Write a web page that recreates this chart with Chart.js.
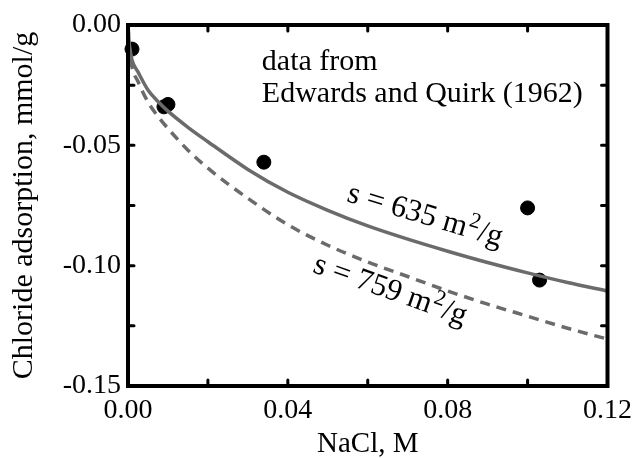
<!DOCTYPE html>
<html>
<head>
<meta charset="utf-8">
<script src="https://cdn.jsdelivr.net/npm/chart.js@4.4.0/dist/chart.umd.min.js"></script>
<style>
  html, body { margin: 0; padding: 0; background: #fff; }
  #wrap { width: 640px; height: 458px; }
</style>
</head>
<body>
<div id="wrap"><canvas id="chart" width="640" height="458"></canvas></div>
<script>
// measured points (Edwards and Quirk, 1962)
const measuredNaCl = [0.001, 0.009, 0.010, 0.034, 0.100, 0.103];
const measuredCl = [-0.010, -0.034, -0.033, -0.057, -0.076, -0.106];

// model curves
const curveNaCl = [0, 0.0003, 0.0006, 0.001, 0.0025, 0.005, 0.0075, 0.01, 0.015, 0.02, 0.03, 0.04, 0.05, 0.06, 0.07, 0.08, 0.09, 0.10, 0.11, 0.12];
const curve635 = [0, -0.0075, -0.011, -0.0145, -0.0195, -0.027, -0.0318, -0.0358, -0.0425, -0.0485, -0.060, -0.0695, -0.077, -0.0835, -0.089, -0.094, -0.0987, -0.103, -0.107, -0.1105];
const curve759 = [0, -0.009, -0.0132, -0.0175, -0.0235, -0.032, -0.038, -0.043, -0.052, -0.0595, -0.072, -0.083, -0.0915, -0.0985, -0.1045, -0.1105, -0.116, -0.121, -0.126, -0.1305];

const xLabelTicks = [0, 0.04, 0.08, 0.12];
const yLabelTicks = [0, -0.05, -0.10, -0.15];

const FONT = "'Liberation Serif', 'Times New Roman', serif";
const GREY = '#6b6b6b';

function toPoints(xs, ys) {
  return xs.map((x, i) => ({ x: x, y: ys[i] }));
}

function hasLabel(v, list) {
  return list.some(t => Math.abs(t - v) < 1e-9);
}

// frame, inward ticks and text labels
const decorPlugin = {
  id: 'decor',
  afterDatasetsDraw(chart) {
    const ctx = chart.ctx;
    const a = chart.chartArea;
    const xs = chart.scales.x, ys = chart.scales.y;
    ctx.save();
    ctx.strokeStyle = '#000';
    ctx.lineCap = 'round';
    ctx.lineWidth = 3;
    const tl = 6;
    xs.ticks.forEach(t => {
      if (t.value <= xs.min + 1e-9 || t.value >= xs.max - 1e-9) return;
      const px = xs.getPixelForValue(t.value);
      ctx.beginPath();
      ctx.moveTo(px, a.bottom); ctx.lineTo(px, a.bottom - tl);
      ctx.moveTo(px, a.top); ctx.lineTo(px, a.top + tl);
      ctx.stroke();
    });
    ys.ticks.forEach(t => {
      if (t.value <= ys.min + 1e-9 || t.value >= ys.max - 1e-9) return;
      const py = ys.getPixelForValue(t.value);
      ctx.beginPath();
      ctx.moveTo(a.left, py); ctx.lineTo(a.left + tl, py);
      ctx.moveTo(a.right, py); ctx.lineTo(a.right - tl, py);
      ctx.stroke();
    });
    ctx.lineCap = 'butt';
    ctx.lineJoin = 'miter';
    ctx.lineWidth = 4;
    ctx.strokeRect(a.left, a.top, a.right - a.left, a.bottom - a.top);

    // annotation
    ctx.fillStyle = '#000';
    ctx.font = '30px ' + FONT;
    ctx.textBaseline = 'alphabetic';
    ctx.textAlign = 'left';
    const ax = xs.getPixelForValue(0.0335);
    ctx.fillText('data from', ax, ys.getPixelForValue(-0.0185));
    ctx.fillText('Edwards and Quirk (1962)', ax, ys.getPixelForValue(-0.0322));

    // curve labels
    drawAreaLabel(ctx, '635', xs.getPixelForValue(0.0545), ys.getPixelForValue(-0.0731), 16.5);
    drawAreaLabel(ctx, '759', xs.getPixelForValue(0.0460), ys.getPixelForValue(-0.1025), 19.5);
    ctx.restore();
  }
};

function drawAreaLabel(ctx, value, x, y, deg) {
  ctx.save();
  ctx.translate(x, y);
  ctx.rotate(deg * Math.PI / 180);
  ctx.font = '31px ' + FONT;
  let s = 's = ' + value + ' m';
  ctx.fillText(s, 0, 0);
  let w = ctx.measureText(s).width;
  ctx.font = '22px ' + FONT;
  ctx.fillText('2', w + 1, -11);
  w += ctx.measureText('2').width + 2;
  ctx.font = '31px ' + FONT;
  ctx.fillText('/g', w, 0);
  ctx.restore();
}

new Chart(document.getElementById('chart'), {
  type: 'scatter',
  data: {
    datasets: [
      {
        label: 's = 635 m2/g',
        data: toPoints(curveNaCl, curve635),
        showLine: true,
        borderColor: GREY,
        borderWidth: 3.5,
        pointRadius: 0,
        cubicInterpolationMode: 'monotone'
      },
      {
        label: 's = 759 m2/g',
        data: toPoints(curveNaCl, curve759),
        showLine: true,
        borderColor: GREY,
        borderWidth: 3.5,
        borderDash: [10, 7],
        pointRadius: 0,
        cubicInterpolationMode: 'monotone'
      },
      {
        label: 'data',
        data: toPoints(measuredNaCl, measuredCl),
        backgroundColor: '#000',
        borderColor: '#000',
        pointRadius: 7,
        clip: false
      }
    ]
  },
  options: {
    responsive: false,
    animation: false,
    devicePixelRatio: 1,
    layout: { padding: { left: 0, top: 25, right: 28, bottom: 0 } },
    plugins: {
      legend: { display: false },
      tooltip: { enabled: false }
    },
    scales: {
      x: {
        type: 'linear',
        min: 0,
        max: 0.12,
        grid: { display: false, drawTicks: false },
        border: { display: false },
        ticks: {
          stepSize: 0.02,
          autoSkip: false,
          maxRotation: 0,
          padding: 8,
          color: '#000',
          font: { family: FONT, size: 28 },
          callback: v => hasLabel(v, xLabelTicks) ? v.toFixed(2) : ''
        },
        title: {
          display: true,
          text: 'NaCl, M',
          color: '#000',
          font: { family: FONT, size: 29, lineHeight: 0.8 },
          padding: { top: 0, bottom: 2 }
        },
        afterFit: s => { s.height = 72; }
      },
      y: {
        type: 'linear',
        min: -0.15,
        max: 0,
        grid: { display: false, drawTicks: false },
        border: { display: false },
        ticks: {
          stepSize: 0.025,
          autoSkip: false,
          padding: 7,
          color: '#000',
          font: { family: FONT, size: 28 },
          callback: v => hasLabel(v, yLabelTicks) ? v.toFixed(2) : ''
        },
        title: {
          display: true,
          text: 'Chloride adsorption, mmol/g',
          color: '#000',
          font: { family: FONT, size: 30, lineHeight: 1.2 },
          padding: { top: 6, bottom: 0 }
        },
        afterFit: s => { s.width = 128; }
      }
    }
  },
  plugins: [decorPlugin]
});
</script>
</body>
</html>
